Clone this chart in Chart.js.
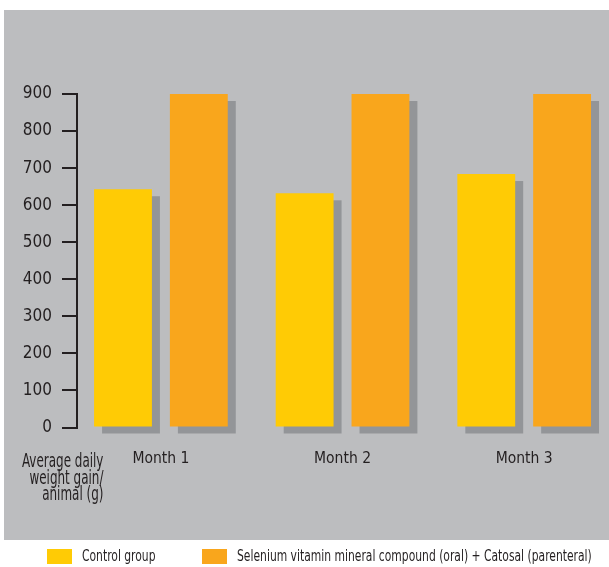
<!DOCTYPE html>
<html>
<head>
<meta charset="utf-8">
<script src="https://cdn.jsdelivr.net/npm/chart.js@4.4.1/dist/chart.umd.min.js"></script>
<style>
  html, body { margin: 0; padding: 0; background: #fff; overflow: hidden; }
  body { width: 609px; height: 567px; position: relative;
         font-family: "Liberation Sans Narrow", "DejaVu Sans Condensed", sans-serif; color: #231f20; }
  #panel { position: absolute; left: 4px; top: 10px; width: 605px; height: 530px; background: #bcbdbf; }
  #wrap { position: absolute; left: 0; top: 0; width: 609px; height: 567px; }
  #ytitle { position: absolute; right: 506px; top: 452px; text-align: right;
            font-size: 19px; line-height: 16.5px; white-space: nowrap;
            transform: scaleX(0.70); transform-origin: right top; }
  .item { position: absolute; top: 549px; height: 15px; font-size: 16.5px; }
  .box { position: absolute; left: 0; top: 0; width: 25px; height: 15px; }
  .label { position: absolute; left: 35px; top: -3px; white-space: nowrap;
           transform: scaleX(0.725); transform-origin: left top; }
</style>
</head>
<body>
<div id="panel"></div>
<div id="wrap"><canvas id="chart"></canvas></div>
<div id="ytitle">Average daily<br>weight gain/<br>animal (g)</div>
<div id="legend"></div>
<script>
  // ----------------------------- data -----------------------------
  var months = ["Month 1", "Month 2", "Month 3"];
  var controlGroup = [643, 632, 684];
  var seleniumGroup = [900, 900, 900];
  var seriesNames = ["Control group", "Selenium vitamin mineral compound (oral) + Catosal (parenteral)"];
  var yTicks = [0, 100, 200, 300, 400, 500, 600, 700, 800, 900];

  var colors = ["#ffcb05", "#f9a61c"];
  var shadowColor = "#939598";
  var textColor = "#231f20";
  var fontFamily = '"Liberation Sans Narrow", "DejaVu Sans Condensed", sans-serif';
  var legendX = [47, 202];

  function points(values) {
    return values.map(function(v, i) { return {x: i, y: v}; });
  }

  // grey drop shadow behind each bar
  var barShadow = {
    id: "barShadow",
    beforeDatasetsDraw: function(chart) {
      var ctx = chart.ctx;
      ctx.save();
      ctx.fillStyle = shadowColor;
      chart.data.datasets.forEach(function(ds, di) {
        chart.getDatasetMeta(di).data.forEach(function(bar) {
          var p = bar.getProps(["x", "y", "base", "width"], true);
          ctx.fillRect(p.x - p.width / 2 + 8, p.y + 7, p.width, p.base - p.y);
        });
      });
      ctx.restore();
    }
  };

  new Chart("chart", {
    type: "bar",
    data: {
      datasets: [{
        label: seriesNames[0],
        backgroundColor: colors[0],
        data: points(controlGroup)
      }, {
        label: seriesNames[1],
        backgroundColor: colors[1],
        data: points(seleniumGroup)
      }]
    },
    options: {
      responsive: true,
      maintainAspectRatio: false,
      animation: false,
      categoryPercentage: 0.835,
      barPercentage: 0.763,
      layout: {padding: {top: 94, right: 0, bottom: 0, left: 0}},
      plugins: {
        legend: {display: false},
        tooltip: {enabled: false}
      },
      scales: {
        x: {
          type: "linear",
          offset: false,
          min: -0.462,
          max: 2.467,
          afterFit: function(s) { s.height = 139.5; },
          grid: {display: false, drawTicks: false},
          border: {display: false},
          ticks: {
            stepSize: 1,
            includeBounds: false,
            padding: 22,
            color: textColor,
            font: {family: fontFamily, size: 15.5},
            callback: function(v) { return months[v] || ""; }
          }
        },
        y: {
          min: 0,
          max: 900,
          afterFit: function(s) { s.width = 77; },
          afterBuildTicks: function(s) { s.ticks = yTicks.map(function(v) { return {value: v}; }); },
          grid: {drawOnChartArea: false, drawTicks: true, tickLength: 15, color: textColor, lineWidth: 2},
          border: {display: true, color: textColor, width: 2},
          ticks: {
            padding: 10,
            color: textColor,
            font: {family: fontFamily, size: 17}
          }
        }
      }
    },
    plugins: [barShadow]
  });

  // legend below the grey panel
  var legend = document.getElementById("legend");
  seriesNames.forEach(function(name, i) {
    var item = document.createElement("div");
    item.className = "item";
    item.style.left = legendX[i] + "px";
    var box = document.createElement("span");
    box.className = "box";
    box.style.background = colors[i];
    var text = document.createElement("span");
    text.className = "label";
    text.textContent = name;
    item.appendChild(box);
    item.appendChild(text);
    legend.appendChild(item);
  });
</script>
</body>
</html>
